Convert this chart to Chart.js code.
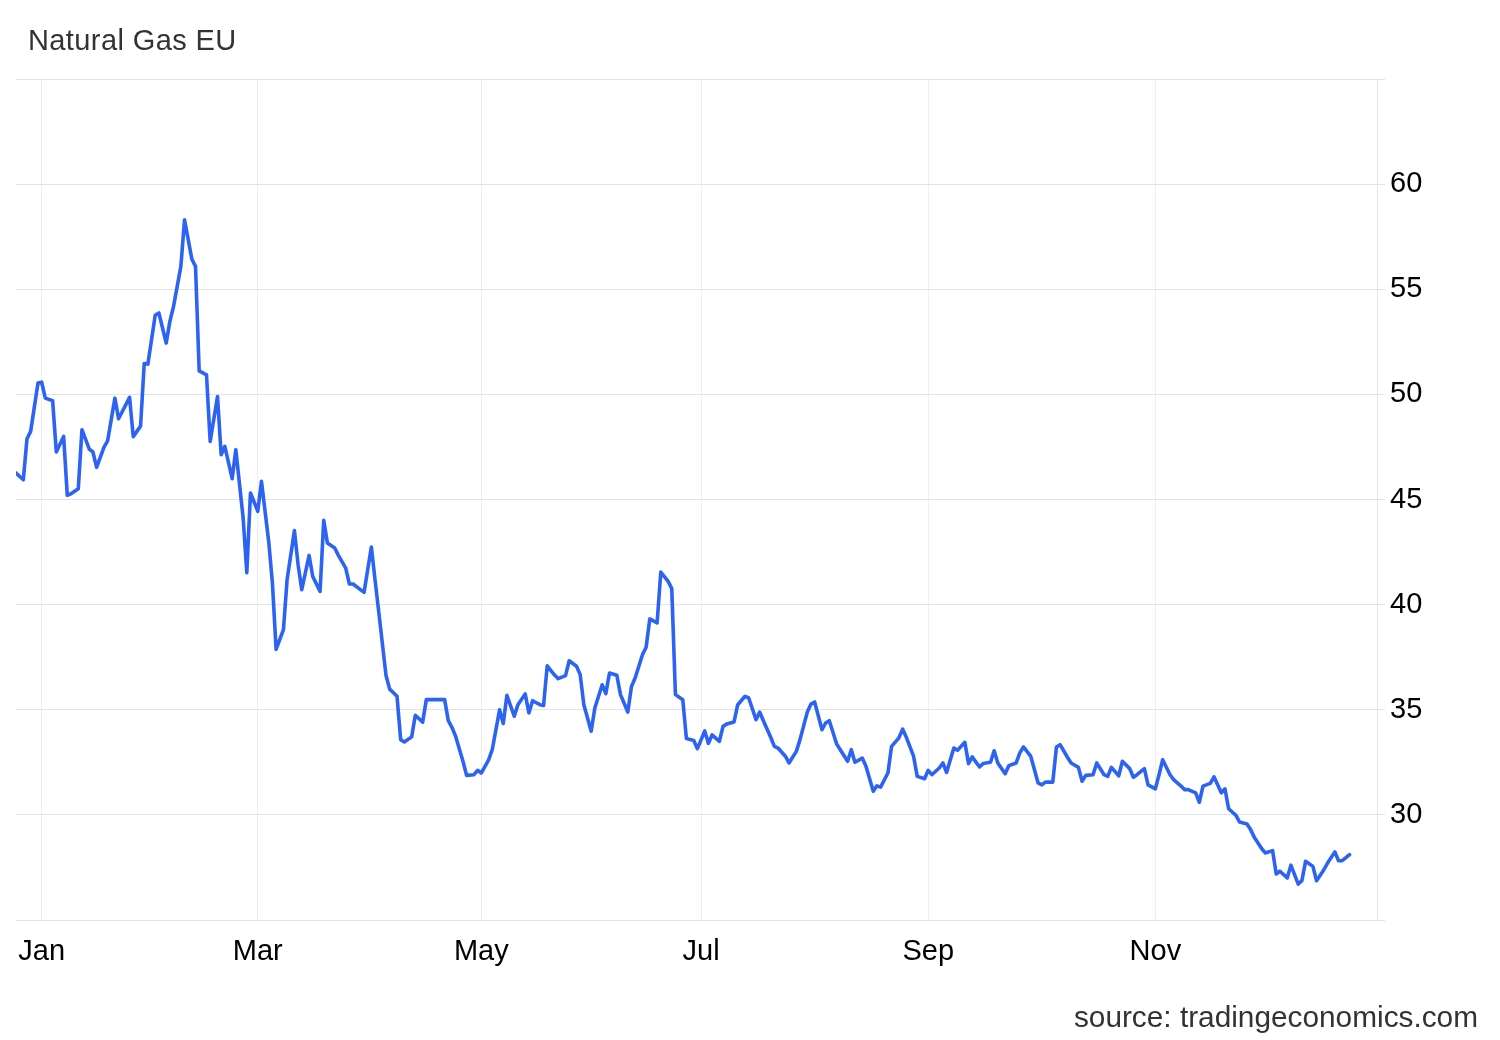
<!DOCTYPE html>
<html>
<head>
<meta charset="utf-8">
<title>Natural Gas EU</title>
<script src="https://cdn.jsdelivr.net/npm/chart.js@4.4.1/dist/chart.umd.min.js"></script>
<style>
  html, body { margin: 0; padding: 0; background: #fff; }
  #wrap { position: relative; width: 1500px; height: 1040px; font-family: 'Liberation Sans', Arial, sans-serif; }
  #chart { position: absolute; left: 0; top: 0; }
  .title { position: absolute; left: 28px; top: 26px; font-size: 29px; line-height: 29px; color: #333; letter-spacing: 0.4px; }
  .source { position: absolute; right: 22px; top: 1002px; font-size: 29.8px; line-height: 30px; color: #333; }
</style>
</head>
<body>
<div id="wrap">
  <canvas id="chart" width="1500" height="1040"></canvas>
  <div class="title">Natural Gas EU</div>
  <div class="source">source: tradingeconomics.com</div>
</div>
<script>
// days counted from 1 Jan (negative = end of previous December)
const days = [
  -7, -5, -4, -3, -1, 0, 1, 3, 4, 6, 7, 8, 10, 11, 13, 14, 15, 17, 18, 20,
  21, 24, 25, 27, 28, 29, 31, 32, 34, 35, 36, 38, 39, 41, 42, 43, 45, 46, 48, 49,
  50, 52, 53, 55, 56, 57, 59, 60, 62, 63, 64, 66, 67, 69, 70, 71, 73, 74, 76, 77,
  78, 80, 81, 83, 84, 85, 87, 88, 90, 91, 92, 94, 95, 97, 98, 99, 101, 102, 104, 105,
  107, 108, 110, 111, 112, 113, 115, 116, 118, 119, 120, 122, 123, 125, 126, 127, 129, 130, 132, 133,
  134, 136, 137, 138, 140, 141, 143, 144, 146, 147, 148, 150, 151, 153, 154, 155, 157, 158, 160, 161,
  162, 164, 165, 166, 168, 169, 171, 172, 173, 175, 176, 178, 179, 181, 182, 183, 185, 186, 187, 189,
  190, 192, 193, 195, 196, 197, 199, 200, 201, 203, 204, 206, 207, 209, 210, 211, 213, 214, 215, 217,
  218, 220, 221, 222, 224, 225, 227, 228, 229, 231, 232, 234, 235, 236, 238, 239, 241, 242, 243, 245,
  246, 247, 249, 250, 252, 253, 254, 256, 257, 259, 260, 261, 263, 264, 266, 267, 268, 270, 272, 273,
  274, 276, 277, 278, 280, 281, 283, 284, 285, 287, 288, 290, 291, 292, 294, 295, 297, 298, 299, 301,
  302, 304, 305, 306, 308, 309, 311, 312, 313, 315, 316, 317, 319, 320, 322, 323, 324, 326, 327, 329,
  330, 331, 333, 334, 336, 337, 338, 340, 341, 343, 344, 345, 347, 348, 350, 351, 353, 354, 355, 357
];

const prices = [
  46.26, 45.94, 47.89, 48.24, 50.54, 50.58, 49.82, 49.70, 47.26, 48.00, 45.20, 45.27, 45.51, 48.32, 47.40, 47.26, 46.53, 47.48, 47.79, 49.82,
  48.84, 49.86, 47.99, 48.49, 51.47, 51.44, 53.76, 53.87, 52.44, 53.47, 54.18, 56.09, 58.30, 56.43, 56.09, 51.12, 50.93, 47.76, 49.90, 47.13,
  47.53, 45.99, 47.37, 44.12, 41.52, 45.31, 44.44, 45.87, 42.97, 41.00, 37.87, 38.81, 41.19, 43.52, 41.90, 40.71, 42.34, 41.34, 40.63, 44.01,
  42.93, 42.69, 42.34, 41.74, 40.98, 40.98, 40.71, 40.58, 42.74, 41.19, 39.68, 36.63, 35.98, 35.64, 33.58, 33.47, 33.71, 34.74, 34.41, 35.48,
  35.48, 35.48, 35.48, 34.48, 34.16, 33.74, 32.55, 31.88, 31.91, 32.12, 31.99, 32.62, 33.10, 35.00, 34.34, 35.69, 34.69, 35.24, 35.75, 34.85,
  35.43, 35.24, 35.20, 37.09, 36.65, 36.48, 36.62, 37.33, 37.07, 36.67, 35.24, 33.98, 35.08, 36.19, 35.77, 36.75, 36.64, 35.72, 34.89, 36.11,
  36.51, 37.62, 37.97, 39.32, 39.13, 41.55, 41.11, 40.76, 35.72, 35.48, 33.63, 33.54, 33.15, 33.99, 33.40, 33.80, 33.50, 34.21, 34.32, 34.42,
  35.24, 35.64, 35.56, 34.53, 34.89, 34.48, 33.69, 33.26, 33.18, 32.79, 32.47, 33.02, 33.58, 34.89, 35.27, 35.37, 34.05, 34.37, 34.48, 33.37,
  33.10, 32.55, 33.10, 32.50, 32.70, 32.31, 31.12, 31.38, 31.32, 31.99, 33.26, 33.66, 34.08, 33.70, 32.79, 31.83, 31.72, 32.12, 31.91, 32.23,
  32.47, 32.02, 33.18, 33.07, 33.45, 32.44, 32.76, 32.28, 32.44, 32.50, 33.05, 32.47, 31.96, 32.34, 32.47, 32.95, 33.23, 32.78, 31.52, 31.43,
  31.56, 31.56, 33.23, 33.34, 32.74, 32.47, 32.26, 31.60, 31.88, 31.91, 32.47, 31.91, 31.83, 32.26, 31.86, 32.55, 32.20, 31.79, 31.91, 32.20,
  31.43, 31.24, 31.91, 32.62, 31.91, 31.68, 31.37, 31.20, 31.20, 31.05, 30.60, 31.37, 31.50, 31.81, 31.05, 31.24, 30.29, 29.98, 29.66, 29.57,
  29.30, 28.94, 28.40, 28.19, 28.30, 27.19, 27.32, 27.00, 27.61, 26.71, 26.87, 27.79, 27.55, 26.87, 27.39, 27.71, 28.24, 27.82, 27.82, 28.11
];

// month ticks on the x axis (positions)
const monthDays = [0, 59, 120, 180, 242, 304];
const monthLabels = ['Jan', 'Mar', 'May', 'Jul', 'Sep', 'Nov'];

const yTicks = [25, 30, 35, 40, 45, 50, 55, 60, 65];

const FONT = "'Liberation Sans', Arial, sans-serif";

new Chart(document.getElementById('chart'), {
  type: 'line',
  data: {
    datasets: [{
      data: days.map((d, i) => ({ x: d, y: prices[i] })),
      borderColor: '#2c63f2',
      borderWidth: 3.6,
      borderJoinStyle: 'round',
      borderCapStyle: 'round',
      pointRadius: 0,
      tension: 0,
      fill: false
    }]
  },
  options: {
    responsive: false,
    animation: false,
    layout: { padding: { left: 16, top: 79, right: 0, bottom: 0 } },
    plugins: {
      legend: { display: false },
      tooltip: { enabled: false }
    },
    scales: {
      x: {
        type: 'linear',
        min: -7,
        max: 364.5,
        afterBuildTicks: (scale) => {
          scale.ticks = monthDays.map(v => ({ value: v }));
        },
        afterFit: (scale) => { scale.height = 120; },
        ticks: {
          autoSkip: false,
          maxRotation: 0,
          padding: 15,
          color: '#000',
          font: { family: FONT, size: 29 },
          callback: (v) => monthLabels[monthDays.indexOf(v)] || ''
        },
        grid: { color: '#edeef2', lineWidth: 1, drawTicks: false },
        border: { color: '#e3e3e3', width: 1 }
      },
      y: {
        position: 'right',
        min: 25,
        max: 65,
        afterBuildTicks: (scale) => {
          scale.ticks = yTicks.map(v => ({ value: v }));
        },
        afterFit: (scale) => { scale.width = 123; },
        ticks: {
          padding: 5,
          color: '#000',
          font: { family: FONT, size: 29 },
          callback: (v) => (v === 25 || v === 65) ? '' : String(v)
        },
        grid: { color: '#e3e3e3', lineWidth: 1, tickLength: 8 },
        border: { color: '#e3e3e3', width: 1 }
      }
    }
  }
});
</script>
</body>
</html>
